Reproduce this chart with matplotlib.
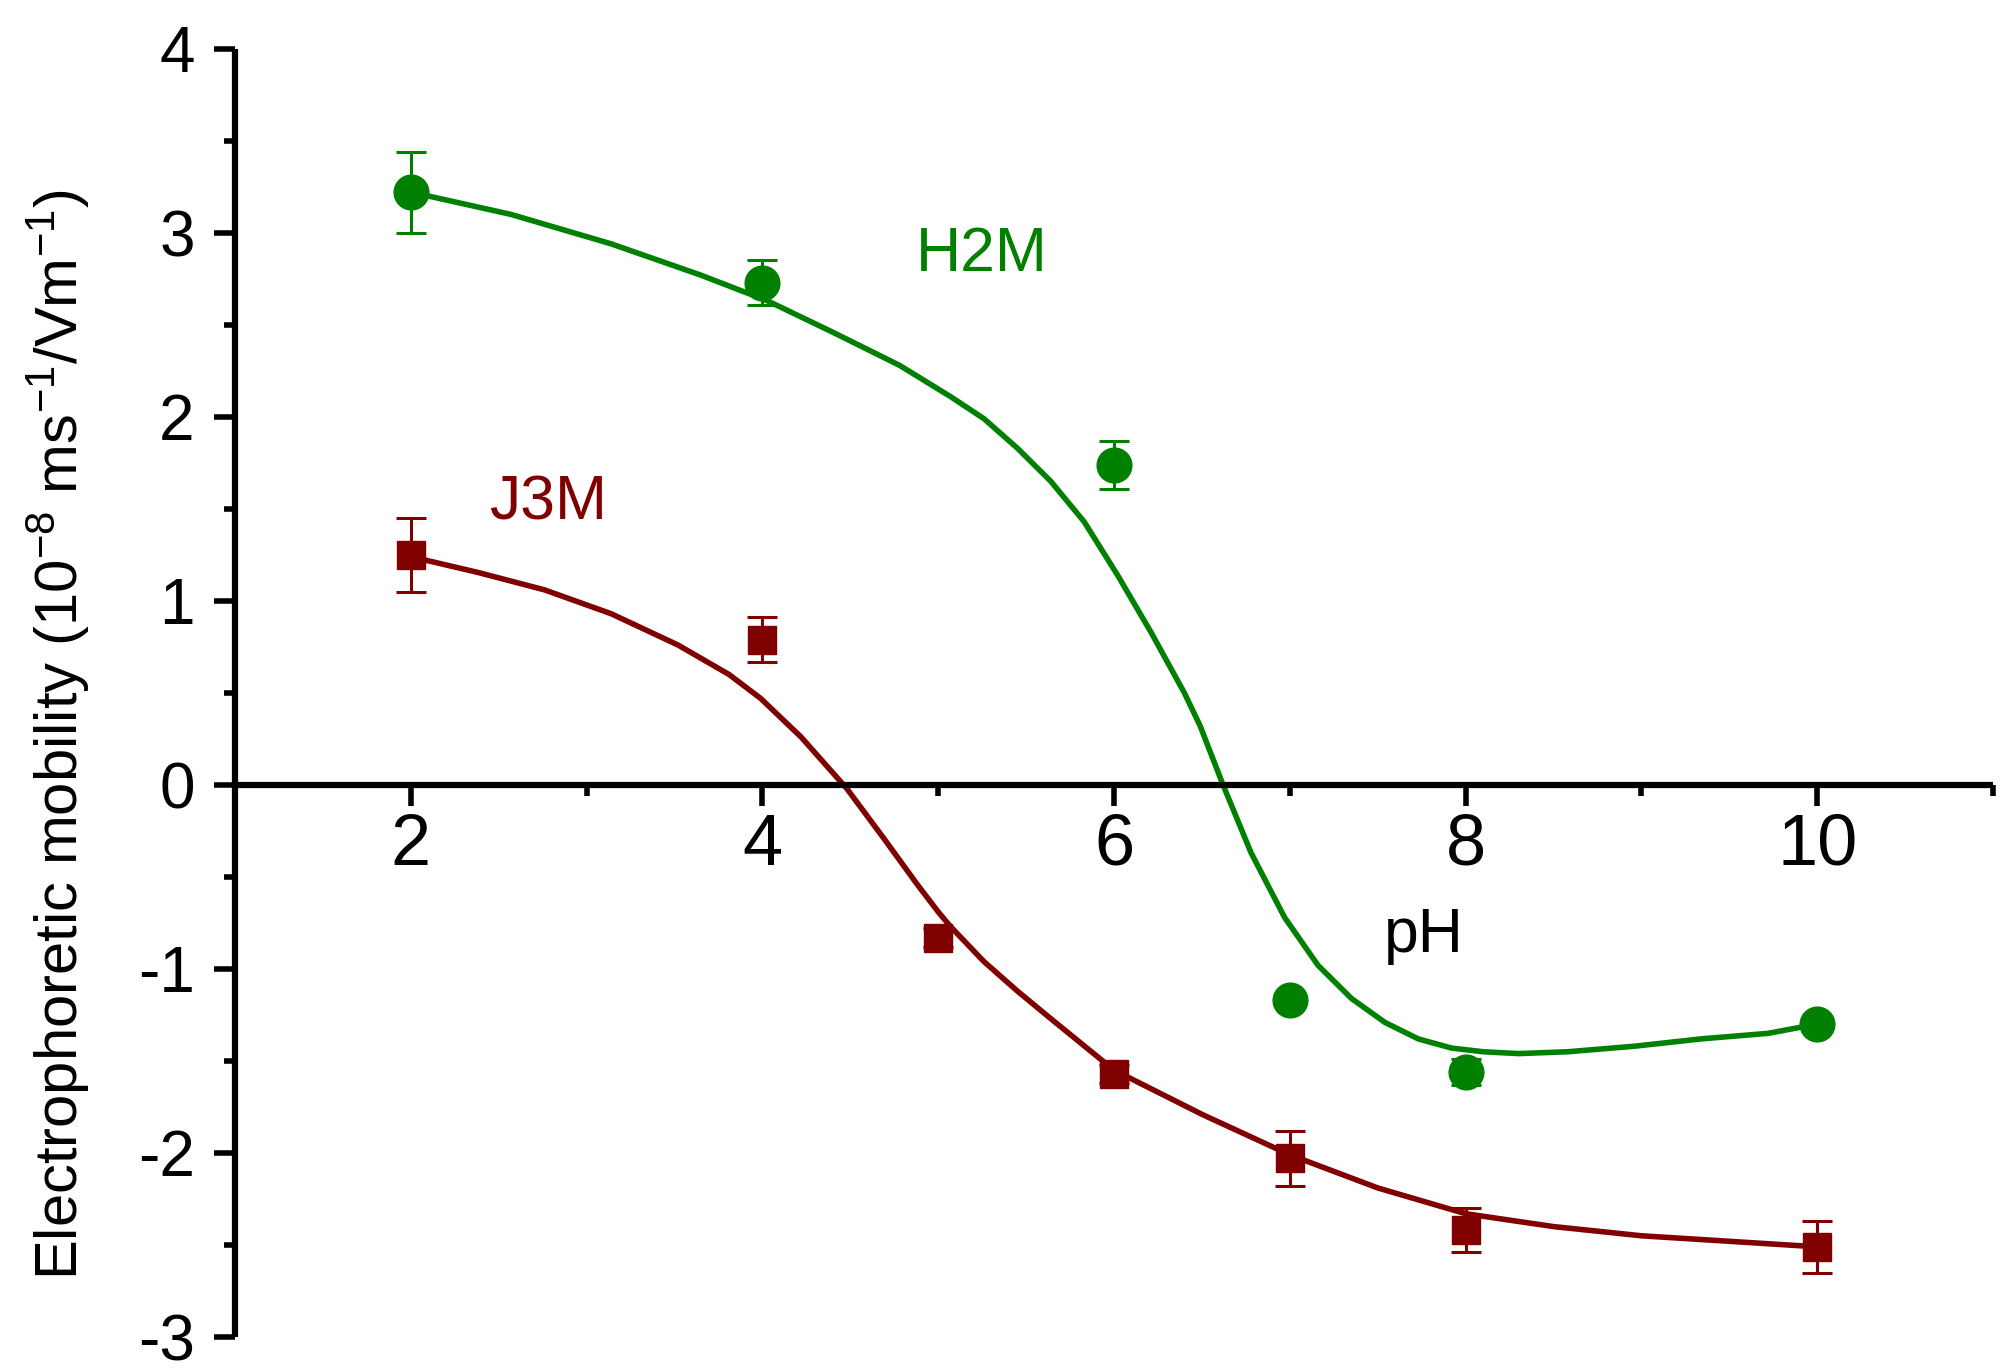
import numpy as np
import matplotlib.pyplot as plt
from matplotlib.ticker import MultipleLocator

plt.rcParams['font.family'] = ['Liberation Sans', 'DejaVu Sans']
plt.rcParams['mathtext.fontset'] = 'custom'
plt.rcParams['mathtext.rm'] = 'Liberation Sans'
plt.rcParams['mathtext.it'] = 'Liberation Sans:italic'
plt.rcParams['axes.unicode_minus'] = False

# measured points
ph_h2m = [2, 4, 6, 7, 8, 10]
mob_h2m = [3.22, 2.73, 1.74, -1.17, -1.56, -1.30]
err_h2m = [0.22, 0.12, 0.13, 0.04, 0.07, 0.04]

ph_j3m = [2, 4, 5, 6, 7, 8, 10]
mob_j3m = [1.25, 0.79, -0.83, -1.57, -2.03, -2.42, -2.51]
err_j3m = [0.20, 0.12, 0.05, 0.05, 0.15, 0.12, 0.14]

# fitted curves
fit_h2m_x = [2.0, 2.1, 2.57, 3.14, 3.65, 4.03, 4.40, 4.78, 5.07, 5.26, 5.45, 5.64, 5.83,
             6.02, 6.21, 6.40, 6.49, 6.62, 6.78, 6.97, 7.16, 7.35, 7.54, 7.73, 7.92,
             8.10, 8.30, 8.58, 8.96, 9.34, 9.72, 10.0]
fit_h2m_y = [3.22, 3.20, 3.10, 2.94, 2.77, 2.63, 2.46, 2.28, 2.11, 1.99, 1.83, 1.65, 1.43,
             1.14, 0.83, 0.50, 0.32, 0.0, -0.37, -0.72, -0.98, -1.16, -1.29, -1.38, -1.43,
             -1.45, -1.46, -1.45, -1.42, -1.38, -1.35, -1.30]

fit_j3m_x = [2.0, 2.09, 2.38, 2.76, 3.14, 3.52, 3.81, 3.99, 4.22, 4.48, 4.69, 4.88, 5.0,
             5.07, 5.26, 5.45, 5.64, 6.0, 6.5, 7.0, 7.5, 8.0, 8.5, 9.0, 9.5, 10.0]
fit_j3m_y = [1.25, 1.22, 1.155, 1.06, 0.93, 0.76, 0.60, 0.47, 0.26, -0.02, -0.29, -0.54,
             -0.69, -0.77, -0.96, -1.12, -1.27, -1.55, -1.79, -2.01, -2.19, -2.33, -2.40,
             -2.45, -2.48, -2.51]

green = '#008000'
red = '#800000'

fig = plt.figure(figsize=(20.14, 13.71), dpi=100)
ax = fig.add_axes([0.1167, 0.0248, 0.8729, 0.9396])

ax.plot(fit_h2m_x, fit_h2m_y, color=green, lw=4, zorder=2, solid_joinstyle='round')
ax.plot(fit_j3m_x, fit_j3m_y, color=red, lw=4, zorder=2, solid_joinstyle='round')
ax.errorbar(ph_h2m, mob_h2m, yerr=err_h2m, fmt='o', color=green, ms=25,
            elinewidth=2.2, capsize=10.5, capthick=2.2, zorder=3)
ax.errorbar(ph_j3m, mob_j3m, yerr=err_j3m, fmt='s', color=red, ms=20,
            elinewidth=2.2, capsize=10.5, capthick=2.2, zorder=3)

ax.text(5.25, 2.88, 'H2M', color=green, fontsize=45, ha='center', va='center')
ax.text(2.78, 1.53, 'J3M', color=red, fontsize=45, ha='center', va='center')
ax.text(7.76, -0.82, 'pH', color='black', fontsize=45, ha='center', va='center')

ax.set_xlim(1, 11)
ax.set_ylim(-3, 4)
ax.spines['top'].set_visible(False)
ax.spines['right'].set_visible(False)
ax.spines['bottom'].set_position(('data', 0))
for s in ('left', 'bottom'):
    ax.spines[s].set_linewidth(4.5)
    ax.spines[s].set_capstyle('butt')

ax.xaxis.set_major_locator(MultipleLocator(2))
ax.xaxis.set_minor_locator(MultipleLocator(1))
ax.yaxis.set_major_locator(MultipleLocator(1))
ax.yaxis.set_minor_locator(MultipleLocator(0.5))
ax.set_xticks([2, 4, 6, 8, 10])
ax.tick_params(which='major', length=15, width=4)
ax.tick_params(which='minor', length=8, width=4)
ax.tick_params(axis='x', which='major', labelsize=52, pad=5)
ax.tick_params(axis='y', which='major', labelsize=46, pad=14)

fig.text(0.0288, 0.464, r'Electrophoretic mobility (10$^{-8}$ ms$^{-1}$/Vm$^{-1}$)',
         rotation=90, ha='center', va='center', fontsize=43)

fig.savefig('out.png', dpi=100)
